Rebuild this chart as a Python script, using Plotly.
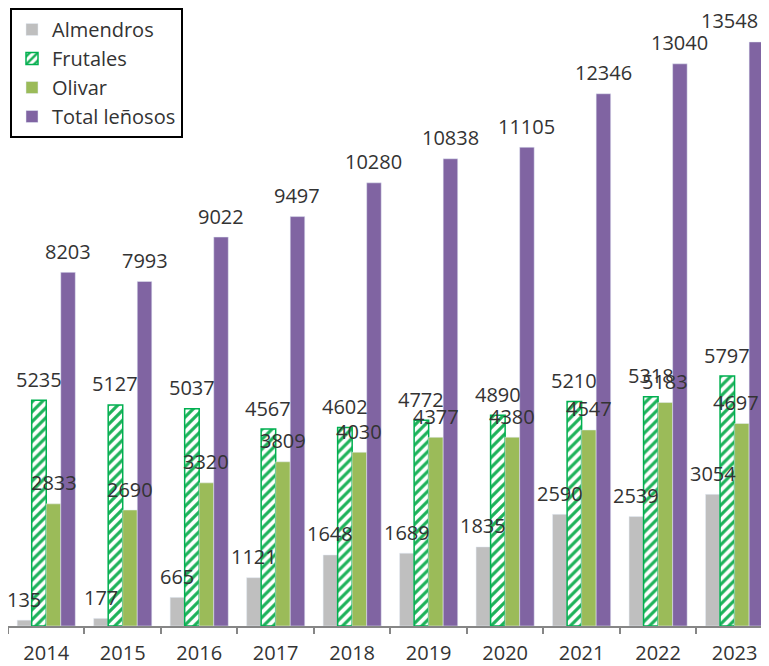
import plotly.graph_objects as go

years = ["2014", "2015", "2016", "2017", "2018", "2019", "2020", "2021", "2022", "2023"]
almendros = [135, 177, 665, 1121, 1648, 1689, 1835, 2590, 2539, 3054]
frutales = [5235, 5127, 5037, 4567, 4602, 4772, 4890, 5210, 5318, 5797]
olivar = [2833, 2690, 3320, 3809, 4030, 4377, 4380, 4547, 5183, 4697]
total = [8203, 7993, 9022, 9497, 10280, 10838, 11105, 12346, 13040, 13548]

series = [
    ("Almendros", almendros, dict(color="#BFBFBF")),
    ("Frutales", frutales, dict(color="#FFFFFF",
                                pattern=dict(shape="/", fgcolor="#1DB25A", bgcolor="#FFFFFF",
                                             size=7, solidity=0.45, fillmode="replace"),
                                line=dict(color="#00B050", width=1.5))),
    ("Olivar", olivar, dict(color="#9BBB59")),
    ("Total leñosos", total, dict(color="#8064A2")),
]

BARGAP = 0.24
FONT = "Open Sans"
TXT = "#333333"
W, H = 761, 658
# labels in the last category that would spill past the right edge are kept inside it
EDGE_SHIFT = {2: 19, 3: 4}

fig = go.Figure()
for name, vals, marker in series:
    fig.add_trace(go.Bar(name=name, x=years, y=vals, marker=marker))

w = (1 - BARGAP) / len(series)
annotations = []
for k, (name, vals, _) in enumerate(series):
    off = (k - (len(series) - 1) / 2) * w
    for i, v in enumerate(vals):
        edge = (i == len(vals) - 1 and k in EDGE_SHIFT)
        annotations.append(dict(
            x=i + off, y=v, xref="x", yref="y", text=str(v), showarrow=False,
            yanchor="middle", xanchor="right" if edge else "center",
            xshift=EDGE_SHIFT[k] if edge else 0, yshift=21,
            font=dict(family=FONT, size=20, color=TXT)))

fig.update_layout(
    width=W, height=H,
    margin=dict(l=0, r=0, t=12, b=40, autoexpand=False),
    paper_bgcolor="white", plot_bgcolor="white",
    barmode="group", bargap=BARGAP, bargroupgap=0,
    annotations=annotations,
    legend=dict(
        xref="container", yref="container", x=2 / W, y=1.0,
        xanchor="left", yanchor="top",
        bordercolor="#000000", borderwidth=2, bgcolor="white",
        font=dict(family=FONT, size=20, color=TXT),
        traceorder="normal",
    ),
    xaxis=dict(
        type="category", range=[-0.5, 9.45], tickson="boundaries",
        ticks="outside", ticklen=6, tickcolor="#868686", tickwidth=1.5,
        showline=True, linecolor="#868686", linewidth=1.5,
        showgrid=False, zeroline=False,
        tickfont=dict(family=FONT, size=20, color=TXT),
        ticklabelstandoff=8,
    ),
    yaxis=dict(range=[0, 14057], visible=False, showgrid=False, zeroline=False),
    showlegend=True,
)

fig.write_html("out.html")
